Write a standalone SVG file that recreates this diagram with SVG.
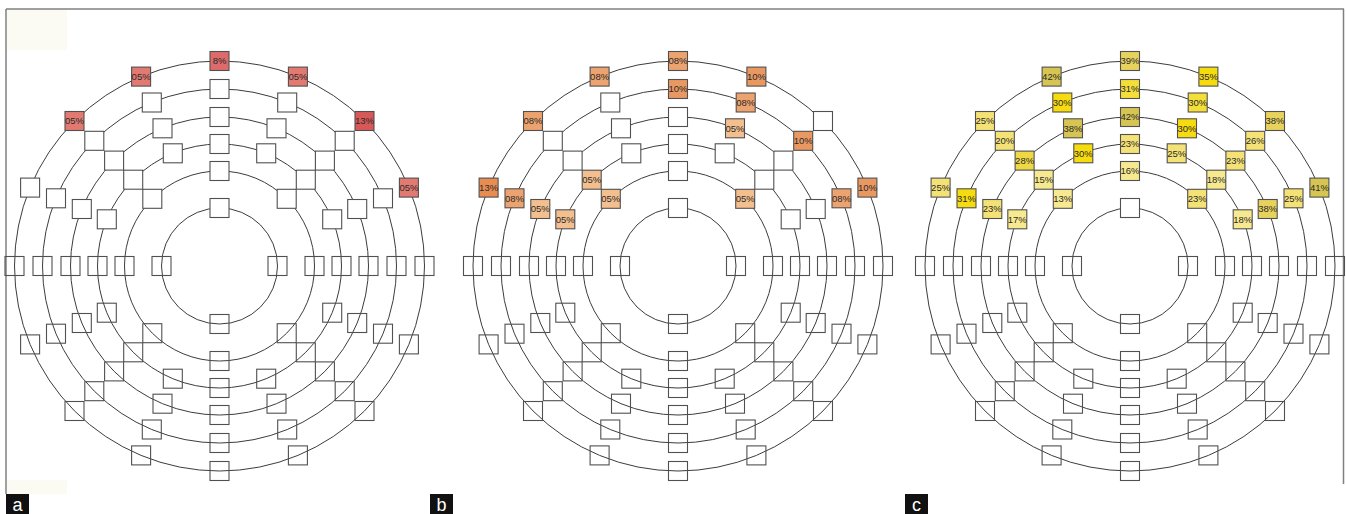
<svg xmlns="http://www.w3.org/2000/svg" xmlns:xlink="http://www.w3.org/1999/xlink" width="1346" height="514" viewBox="0 0 1346 514">
<style>
.ring{fill:none;stroke:#3c3c3c;stroke-width:1}
.u{fill:#fff;stroke:#505050;stroke-width:1.1}
.l{fill:none;stroke:#505050;stroke-width:1.1}
.c{stroke:#505050;stroke-width:1.1}
.t{font-family:"Liberation Sans",Arial,sans-serif;font-size:9.5px;fill:#2a2a2a;text-anchor:middle}
.ra5{fill:#e37a72}.ra8{fill:#dd6b6b}.ra13{fill:#d85858}
.ob13{fill:#e88c52}.ob10{fill:#e99862}.ob08{fill:#eda36f}.ob05{fill:#f4bf8e}
.y1{fill:#f6db0e}.y2{fill:#f4df3a}.y3{fill:#d7c553}.y4{fill:#e6d25c}.y5{fill:#f4e277}.y6{fill:#f7e98f}.y7{fill:#efd846}
.frame{stroke:#808080;stroke-width:1.5;fill:none}
.lab{fill:#111}
.labt{font-family:"Liberation Sans",Arial,sans-serif;font-size:18px;fill:#fff;text-anchor:middle}
</style>
<defs>
<rect id="s" x="-9.5" y="-9.5" width="19" height="19"/>
</defs>
<rect x="0" y="0" width="1346" height="514" fill="#fff"/>
<rect x="7" y="10" width="60" height="40" fill="#fbfbf3"/>
<rect x="7" y="480" width="60" height="14" fill="#fbfbf3"/>
<g id="frame">
<line class="frame" x1="6" y1="9" x2="1344" y2="9"/>
<line class="frame" x1="6" y1="9" x2="6" y2="494"/>
<line class="frame" x1="1343.5" y1="9" x2="1343.5" y2="484"/>
</g>

<g id="panel-a" transform="translate(219.5,266)">
<g id="a-rings"><circle class="ring" r="58"/><circle class="ring" r="95"/><circle class="ring" r="122"/><circle class="ring" r="149"/><circle class="ring" r="177"/><circle class="ring" r="205"/></g>
<g id="a-N1" transform="translate(0,-58)"><use href="#s" class="u"/></g>
<g id="a-N2" transform="translate(0,-95)"><use href="#s" class="u"/></g>
<g id="a-N3" transform="translate(0,-122)"><use href="#s" class="u"/></g>
<g id="a-N4" transform="translate(0,-149)"><use href="#s" class="u"/></g>
<g id="a-N5" transform="translate(0,-177)"><use href="#s" class="u"/></g>
<g id="a-N6" transform="translate(0,-205)"><use href="#s" class="c ra8"/><text class="t" y="3.4">8%</text></g>
<g id="a-S1" transform="translate(0,58)"><use href="#s" class="l"/></g>
<g id="a-S2" transform="translate(0,95)"><use href="#s" class="l"/></g>
<g id="a-S3" transform="translate(0,122)"><use href="#s" class="l"/></g>
<g id="a-S4" transform="translate(0,149)"><use href="#s" class="l"/></g>
<g id="a-S5" transform="translate(0,177)"><use href="#s" class="l"/></g>
<g id="a-S6" transform="translate(0,205)"><use href="#s" class="l"/></g>
<g id="a-E1" transform="translate(58,0)"><use href="#s" class="l"/></g>
<g id="a-E2" transform="translate(95,0)"><use href="#s" class="l"/></g>
<g id="a-E3" transform="translate(122,0)"><use href="#s" class="l"/></g>
<g id="a-E4" transform="translate(149,0)"><use href="#s" class="l"/></g>
<g id="a-E5" transform="translate(177,0)"><use href="#s" class="l"/></g>
<g id="a-E6" transform="translate(205,0)"><use href="#s" class="l"/></g>
<g id="a-W1" transform="translate(-58,0)"><use href="#s" class="l"/></g>
<g id="a-W2" transform="translate(-95,0)"><use href="#s" class="l"/></g>
<g id="a-W3" transform="translate(-122,0)"><use href="#s" class="l"/></g>
<g id="a-W4" transform="translate(-149,0)"><use href="#s" class="l"/></g>
<g id="a-W5" transform="translate(-177,0)"><use href="#s" class="l"/></g>
<g id="a-W6" transform="translate(-205,0)"><use href="#s" class="l"/></g>
<g id="a-NE2" transform="translate(67.2,-67.2)"><use href="#s" class="u"/></g>
<g id="a-NE3" transform="translate(86.3,-86.3)"><use href="#s" class="u"/></g>
<g id="a-NE4" transform="translate(105.4,-105.4)"><use href="#s" class="u"/></g>
<g id="a-NE5" transform="translate(125.2,-125.2)"><use href="#s" class="u"/></g>
<g id="a-NE6" transform="translate(145,-145)"><use href="#s" class="c ra13"/><text class="t" y="3.4">13%</text></g>
<g id="a-NW2" transform="translate(-67.2,-67.2)"><use href="#s" class="u"/></g>
<g id="a-NW3" transform="translate(-86.3,-86.3)"><use href="#s" class="u"/></g>
<g id="a-NW4" transform="translate(-105.4,-105.4)"><use href="#s" class="u"/></g>
<g id="a-NW5" transform="translate(-125.2,-125.2)"><use href="#s" class="u"/></g>
<g id="a-NW6" transform="translate(-145,-145)"><use href="#s" class="c ra5"/><text class="t" y="3.4">05%</text></g>
<g id="a-SE2" transform="translate(67.2,67.2)"><use href="#s" class="l"/></g>
<g id="a-SE3" transform="translate(86.3,86.3)"><use href="#s" class="l"/></g>
<g id="a-SE4" transform="translate(105.4,105.4)"><use href="#s" class="l"/></g>
<g id="a-SE5" transform="translate(125.2,125.2)"><use href="#s" class="l"/></g>
<g id="a-SE6" transform="translate(145,145)"><use href="#s" class="l"/></g>
<g id="a-SW2" transform="translate(-67.2,67.2)"><use href="#s" class="l"/></g>
<g id="a-SW3" transform="translate(-86.3,86.3)"><use href="#s" class="l"/></g>
<g id="a-SW4" transform="translate(-105.4,105.4)"><use href="#s" class="l"/></g>
<g id="a-SW5" transform="translate(-125.2,125.2)"><use href="#s" class="l"/></g>
<g id="a-SW6" transform="translate(-145,145)"><use href="#s" class="l"/></g>
<g id="a-NNE3" transform="translate(46.7,-112.7)"><use href="#s" class="u"/></g>
<g id="a-NNE4" transform="translate(57,-137.7)"><use href="#s" class="u"/></g>
<g id="a-NNE5" transform="translate(67.7,-163.5)"><use href="#s" class="u"/></g>
<g id="a-NNE6" transform="translate(78.4,-189.4)"><use href="#s" class="c ra5"/><text class="t" y="3.4">05%</text></g>
<g id="a-NNW3" transform="translate(-46.7,-112.7)"><use href="#s" class="u"/></g>
<g id="a-NNW4" transform="translate(-57,-137.7)"><use href="#s" class="u"/></g>
<g id="a-NNW5" transform="translate(-67.7,-163.5)"><use href="#s" class="u"/></g>
<g id="a-NNW6" transform="translate(-78.4,-189.4)"><use href="#s" class="c ra5"/><text class="t" y="3.4">05%</text></g>
<g id="a-SSE3" transform="translate(46.7,112.7)"><use href="#s" class="l"/></g>
<g id="a-SSE4" transform="translate(57,137.7)"><use href="#s" class="l"/></g>
<g id="a-SSE5" transform="translate(67.7,163.5)"><use href="#s" class="l"/></g>
<g id="a-SSE6" transform="translate(78.4,189.4)"><use href="#s" class="l"/></g>
<g id="a-SSW3" transform="translate(-46.7,112.7)"><use href="#s" class="l"/></g>
<g id="a-SSW4" transform="translate(-57,137.7)"><use href="#s" class="l"/></g>
<g id="a-SSW5" transform="translate(-67.7,163.5)"><use href="#s" class="l"/></g>
<g id="a-SSW6" transform="translate(-78.4,189.4)"><use href="#s" class="l"/></g>
<g id="a-ENE3" transform="translate(112.7,-46.7)"><use href="#s" class="u"/></g>
<g id="a-ENE4" transform="translate(137.7,-57)"><use href="#s" class="u"/></g>
<g id="a-ENE5" transform="translate(163.5,-67.7)"><use href="#s" class="u"/></g>
<g id="a-ENE6" transform="translate(189.4,-78.4)"><use href="#s" class="c ra5"/><text class="t" y="3.4">05%</text></g>
<g id="a-WNW3" transform="translate(-112.7,-46.7)"><use href="#s" class="u"/></g>
<g id="a-WNW4" transform="translate(-137.7,-57)"><use href="#s" class="u"/></g>
<g id="a-WNW5" transform="translate(-163.5,-67.7)"><use href="#s" class="u"/></g>
<g id="a-WNW6" transform="translate(-189.4,-78.4)"><use href="#s" class="u"/></g>
<g id="a-ESE3" transform="translate(112.7,46.7)"><use href="#s" class="l"/></g>
<g id="a-ESE4" transform="translate(137.7,57)"><use href="#s" class="l"/></g>
<g id="a-ESE5" transform="translate(163.5,67.7)"><use href="#s" class="l"/></g>
<g id="a-ESE6" transform="translate(189.4,78.4)"><use href="#s" class="l"/></g>
<g id="a-WSW3" transform="translate(-112.7,46.7)"><use href="#s" class="l"/></g>
<g id="a-WSW4" transform="translate(-137.7,57)"><use href="#s" class="l"/></g>
<g id="a-WSW5" transform="translate(-163.5,67.7)"><use href="#s" class="l"/></g>
<g id="a-WSW6" transform="translate(-189.4,78.4)"><use href="#s" class="l"/></g>
</g>

<g id="panel-b" transform="translate(678,266)">
<g id="b-rings"><circle class="ring" r="58"/><circle class="ring" r="95"/><circle class="ring" r="122"/><circle class="ring" r="149"/><circle class="ring" r="177"/><circle class="ring" r="205"/></g>
<g id="b-N1" transform="translate(0,-58)"><use href="#s" class="u"/></g>
<g id="b-N2" transform="translate(0,-95)"><use href="#s" class="u"/></g>
<g id="b-N3" transform="translate(0,-122)"><use href="#s" class="u"/></g>
<g id="b-N4" transform="translate(0,-149)"><use href="#s" class="u"/></g>
<g id="b-N5" transform="translate(0,-177)"><use href="#s" class="c ob10"/><text class="t" y="3.4">10%</text></g>
<g id="b-N6" transform="translate(0,-205)"><use href="#s" class="c ob08"/><text class="t" y="3.4">08%</text></g>
<g id="b-S1" transform="translate(0,58)"><use href="#s" class="l"/></g>
<g id="b-S2" transform="translate(0,95)"><use href="#s" class="l"/></g>
<g id="b-S3" transform="translate(0,122)"><use href="#s" class="l"/></g>
<g id="b-S4" transform="translate(0,149)"><use href="#s" class="l"/></g>
<g id="b-S5" transform="translate(0,177)"><use href="#s" class="l"/></g>
<g id="b-S6" transform="translate(0,205)"><use href="#s" class="l"/></g>
<g id="b-E1" transform="translate(58,0)"><use href="#s" class="l"/></g>
<g id="b-E2" transform="translate(95,0)"><use href="#s" class="l"/></g>
<g id="b-E3" transform="translate(122,0)"><use href="#s" class="l"/></g>
<g id="b-E4" transform="translate(149,0)"><use href="#s" class="l"/></g>
<g id="b-E5" transform="translate(177,0)"><use href="#s" class="l"/></g>
<g id="b-E6" transform="translate(205,0)"><use href="#s" class="l"/></g>
<g id="b-W1" transform="translate(-58,0)"><use href="#s" class="l"/></g>
<g id="b-W2" transform="translate(-95,0)"><use href="#s" class="l"/></g>
<g id="b-W3" transform="translate(-122,0)"><use href="#s" class="l"/></g>
<g id="b-W4" transform="translate(-149,0)"><use href="#s" class="l"/></g>
<g id="b-W5" transform="translate(-177,0)"><use href="#s" class="l"/></g>
<g id="b-W6" transform="translate(-205,0)"><use href="#s" class="l"/></g>
<g id="b-NE2" transform="translate(67.2,-67.2)"><use href="#s" class="c ob05"/><text class="t" y="3.4">05%</text></g>
<g id="b-NE3" transform="translate(86.3,-86.3)"><use href="#s" class="u"/></g>
<g id="b-NE4" transform="translate(105.4,-105.4)"><use href="#s" class="u"/></g>
<g id="b-NE5" transform="translate(125.2,-125.2)"><use href="#s" class="c ob10"/><text class="t" y="3.4">10%</text></g>
<g id="b-NE6" transform="translate(145,-145)"><use href="#s" class="u"/></g>
<g id="b-NW2" transform="translate(-67.2,-67.2)"><use href="#s" class="c ob05"/><text class="t" y="3.4">05%</text></g>
<g id="b-NW3" transform="translate(-86.3,-86.3)"><use href="#s" class="c ob05"/><text class="t" y="3.4">05%</text></g>
<g id="b-NW4" transform="translate(-105.4,-105.4)"><use href="#s" class="u"/></g>
<g id="b-NW5" transform="translate(-125.2,-125.2)"><use href="#s" class="u"/></g>
<g id="b-NW6" transform="translate(-145,-145)"><use href="#s" class="c ob08"/><text class="t" y="3.4">08%</text></g>
<g id="b-SE2" transform="translate(67.2,67.2)"><use href="#s" class="l"/></g>
<g id="b-SE3" transform="translate(86.3,86.3)"><use href="#s" class="l"/></g>
<g id="b-SE4" transform="translate(105.4,105.4)"><use href="#s" class="l"/></g>
<g id="b-SE5" transform="translate(125.2,125.2)"><use href="#s" class="l"/></g>
<g id="b-SE6" transform="translate(145,145)"><use href="#s" class="l"/></g>
<g id="b-SW2" transform="translate(-67.2,67.2)"><use href="#s" class="l"/></g>
<g id="b-SW3" transform="translate(-86.3,86.3)"><use href="#s" class="l"/></g>
<g id="b-SW4" transform="translate(-105.4,105.4)"><use href="#s" class="l"/></g>
<g id="b-SW5" transform="translate(-125.2,125.2)"><use href="#s" class="l"/></g>
<g id="b-SW6" transform="translate(-145,145)"><use href="#s" class="l"/></g>
<g id="b-NNE3" transform="translate(46.7,-112.7)"><use href="#s" class="u"/></g>
<g id="b-NNE4" transform="translate(57,-137.7)"><use href="#s" class="c ob05"/><text class="t" y="3.4">05%</text></g>
<g id="b-NNE5" transform="translate(67.7,-163.5)"><use href="#s" class="c ob08"/><text class="t" y="3.4">08%</text></g>
<g id="b-NNE6" transform="translate(78.4,-189.4)"><use href="#s" class="c ob10"/><text class="t" y="3.4">10%</text></g>
<g id="b-NNW3" transform="translate(-46.7,-112.7)"><use href="#s" class="u"/></g>
<g id="b-NNW4" transform="translate(-57,-137.7)"><use href="#s" class="u"/></g>
<g id="b-NNW5" transform="translate(-67.7,-163.5)"><use href="#s" class="u"/></g>
<g id="b-NNW6" transform="translate(-78.4,-189.4)"><use href="#s" class="c ob08"/><text class="t" y="3.4">08%</text></g>
<g id="b-SSE3" transform="translate(46.7,112.7)"><use href="#s" class="l"/></g>
<g id="b-SSE4" transform="translate(57,137.7)"><use href="#s" class="l"/></g>
<g id="b-SSE5" transform="translate(67.7,163.5)"><use href="#s" class="l"/></g>
<g id="b-SSE6" transform="translate(78.4,189.4)"><use href="#s" class="l"/></g>
<g id="b-SSW3" transform="translate(-46.7,112.7)"><use href="#s" class="l"/></g>
<g id="b-SSW4" transform="translate(-57,137.7)"><use href="#s" class="l"/></g>
<g id="b-SSW5" transform="translate(-67.7,163.5)"><use href="#s" class="l"/></g>
<g id="b-SSW6" transform="translate(-78.4,189.4)"><use href="#s" class="l"/></g>
<g id="b-ENE3" transform="translate(112.7,-46.7)"><use href="#s" class="u"/></g>
<g id="b-ENE4" transform="translate(137.7,-57)"><use href="#s" class="u"/></g>
<g id="b-ENE5" transform="translate(163.5,-67.7)"><use href="#s" class="c ob08"/><text class="t" y="3.4">08%</text></g>
<g id="b-ENE6" transform="translate(189.4,-78.4)"><use href="#s" class="c ob10"/><text class="t" y="3.4">10%</text></g>
<g id="b-WNW3" transform="translate(-112.7,-46.7)"><use href="#s" class="c ob05"/><text class="t" y="3.4">05%</text></g>
<g id="b-WNW4" transform="translate(-137.7,-57)"><use href="#s" class="c ob05"/><text class="t" y="3.4">05%</text></g>
<g id="b-WNW5" transform="translate(-163.5,-67.7)"><use href="#s" class="c ob08"/><text class="t" y="3.4">08%</text></g>
<g id="b-WNW6" transform="translate(-189.4,-78.4)"><use href="#s" class="c ob13"/><text class="t" y="3.4">13%</text></g>
<g id="b-ESE3" transform="translate(112.7,46.7)"><use href="#s" class="l"/></g>
<g id="b-ESE4" transform="translate(137.7,57)"><use href="#s" class="l"/></g>
<g id="b-ESE5" transform="translate(163.5,67.7)"><use href="#s" class="l"/></g>
<g id="b-ESE6" transform="translate(189.4,78.4)"><use href="#s" class="l"/></g>
<g id="b-WSW3" transform="translate(-112.7,46.7)"><use href="#s" class="l"/></g>
<g id="b-WSW4" transform="translate(-137.7,57)"><use href="#s" class="l"/></g>
<g id="b-WSW5" transform="translate(-163.5,67.7)"><use href="#s" class="l"/></g>
<g id="b-WSW6" transform="translate(-189.4,78.4)"><use href="#s" class="l"/></g>
</g>

<g id="panel-c" transform="translate(1130,266)">
<g id="c-rings"><circle class="ring" r="58"/><circle class="ring" r="95"/><circle class="ring" r="122"/><circle class="ring" r="149"/><circle class="ring" r="177"/><circle class="ring" r="205"/></g>
<g id="c-N1" transform="translate(0,-58)"><use href="#s" class="u"/></g>
<g id="c-N2" transform="translate(0,-95)"><use href="#s" class="c y6"/><text class="t" y="3.4">16%</text></g>
<g id="c-N3" transform="translate(0,-122)"><use href="#s" class="c y5"/><text class="t" y="3.4">23%</text></g>
<g id="c-N4" transform="translate(0,-149)"><use href="#s" class="c y3"/><text class="t" y="3.4">42%</text></g>
<g id="c-N5" transform="translate(0,-177)"><use href="#s" class="c y2"/><text class="t" y="3.4">31%</text></g>
<g id="c-N6" transform="translate(0,-205)"><use href="#s" class="c y4"/><text class="t" y="3.4">39%</text></g>
<g id="c-S1" transform="translate(0,58)"><use href="#s" class="l"/></g>
<g id="c-S2" transform="translate(0,95)"><use href="#s" class="l"/></g>
<g id="c-S3" transform="translate(0,122)"><use href="#s" class="l"/></g>
<g id="c-S4" transform="translate(0,149)"><use href="#s" class="l"/></g>
<g id="c-S5" transform="translate(0,177)"><use href="#s" class="l"/></g>
<g id="c-S6" transform="translate(0,205)"><use href="#s" class="l"/></g>
<g id="c-E1" transform="translate(58,0)"><use href="#s" class="l"/></g>
<g id="c-E2" transform="translate(95,0)"><use href="#s" class="l"/></g>
<g id="c-E3" transform="translate(122,0)"><use href="#s" class="l"/></g>
<g id="c-E4" transform="translate(149,0)"><use href="#s" class="l"/></g>
<g id="c-E5" transform="translate(177,0)"><use href="#s" class="l"/></g>
<g id="c-E6" transform="translate(205,0)"><use href="#s" class="l"/></g>
<g id="c-W1" transform="translate(-58,0)"><use href="#s" class="l"/></g>
<g id="c-W2" transform="translate(-95,0)"><use href="#s" class="l"/></g>
<g id="c-W3" transform="translate(-122,0)"><use href="#s" class="l"/></g>
<g id="c-W4" transform="translate(-149,0)"><use href="#s" class="l"/></g>
<g id="c-W5" transform="translate(-177,0)"><use href="#s" class="l"/></g>
<g id="c-W6" transform="translate(-205,0)"><use href="#s" class="l"/></g>
<g id="c-NE2" transform="translate(67.2,-67.2)"><use href="#s" class="c y5"/><text class="t" y="3.4">23%</text></g>
<g id="c-NE3" transform="translate(86.3,-86.3)"><use href="#s" class="c y6"/><text class="t" y="3.4">18%</text></g>
<g id="c-NE4" transform="translate(105.4,-105.4)"><use href="#s" class="c y5"/><text class="t" y="3.4">23%</text></g>
<g id="c-NE5" transform="translate(125.2,-125.2)"><use href="#s" class="c y5"/><text class="t" y="3.4">26%</text></g>
<g id="c-NE6" transform="translate(145,-145)"><use href="#s" class="c y4"/><text class="t" y="3.4">38%</text></g>
<g id="c-NW2" transform="translate(-67.2,-67.2)"><use href="#s" class="c y6"/><text class="t" y="3.4">13%</text></g>
<g id="c-NW3" transform="translate(-86.3,-86.3)"><use href="#s" class="c y6"/><text class="t" y="3.4">15%</text></g>
<g id="c-NW4" transform="translate(-105.4,-105.4)"><use href="#s" class="c y7"/><text class="t" y="3.4">28%</text></g>
<g id="c-NW5" transform="translate(-125.2,-125.2)"><use href="#s" class="c y5"/><text class="t" y="3.4">20%</text></g>
<g id="c-NW6" transform="translate(-145,-145)"><use href="#s" class="c y5"/><text class="t" y="3.4">25%</text></g>
<g id="c-SE2" transform="translate(67.2,67.2)"><use href="#s" class="l"/></g>
<g id="c-SE3" transform="translate(86.3,86.3)"><use href="#s" class="l"/></g>
<g id="c-SE4" transform="translate(105.4,105.4)"><use href="#s" class="l"/></g>
<g id="c-SE5" transform="translate(125.2,125.2)"><use href="#s" class="l"/></g>
<g id="c-SE6" transform="translate(145,145)"><use href="#s" class="l"/></g>
<g id="c-SW2" transform="translate(-67.2,67.2)"><use href="#s" class="l"/></g>
<g id="c-SW3" transform="translate(-86.3,86.3)"><use href="#s" class="l"/></g>
<g id="c-SW4" transform="translate(-105.4,105.4)"><use href="#s" class="l"/></g>
<g id="c-SW5" transform="translate(-125.2,125.2)"><use href="#s" class="l"/></g>
<g id="c-SW6" transform="translate(-145,145)"><use href="#s" class="l"/></g>
<g id="c-NNE3" transform="translate(46.7,-112.7)"><use href="#s" class="c y5"/><text class="t" y="3.4">25%</text></g>
<g id="c-NNE4" transform="translate(57,-137.7)"><use href="#s" class="c y1"/><text class="t" y="3.4">30%</text></g>
<g id="c-NNE5" transform="translate(67.7,-163.5)"><use href="#s" class="c y2"/><text class="t" y="3.4">30%</text></g>
<g id="c-NNE6" transform="translate(78.4,-189.4)"><use href="#s" class="c y1"/><text class="t" y="3.4">35%</text></g>
<g id="c-NNW3" transform="translate(-46.7,-112.7)"><use href="#s" class="c y1"/><text class="t" y="3.4">30%</text></g>
<g id="c-NNW4" transform="translate(-57,-137.7)"><use href="#s" class="c y3"/><text class="t" y="3.4">38%</text></g>
<g id="c-NNW5" transform="translate(-67.7,-163.5)"><use href="#s" class="c y1"/><text class="t" y="3.4">30%</text></g>
<g id="c-NNW6" transform="translate(-78.4,-189.4)"><use href="#s" class="c y3"/><text class="t" y="3.4">42%</text></g>
<g id="c-SSE3" transform="translate(46.7,112.7)"><use href="#s" class="l"/></g>
<g id="c-SSE4" transform="translate(57,137.7)"><use href="#s" class="l"/></g>
<g id="c-SSE5" transform="translate(67.7,163.5)"><use href="#s" class="l"/></g>
<g id="c-SSE6" transform="translate(78.4,189.4)"><use href="#s" class="l"/></g>
<g id="c-SSW3" transform="translate(-46.7,112.7)"><use href="#s" class="l"/></g>
<g id="c-SSW4" transform="translate(-57,137.7)"><use href="#s" class="l"/></g>
<g id="c-SSW5" transform="translate(-67.7,163.5)"><use href="#s" class="l"/></g>
<g id="c-SSW6" transform="translate(-78.4,189.4)"><use href="#s" class="l"/></g>
<g id="c-ENE3" transform="translate(112.7,-46.7)"><use href="#s" class="c y6"/><text class="t" y="3.4">18%</text></g>
<g id="c-ENE4" transform="translate(137.7,-57)"><use href="#s" class="c y4"/><text class="t" y="3.4">38%</text></g>
<g id="c-ENE5" transform="translate(163.5,-67.7)"><use href="#s" class="c y5"/><text class="t" y="3.4">25%</text></g>
<g id="c-ENE6" transform="translate(189.4,-78.4)"><use href="#s" class="c y3"/><text class="t" y="3.4">41%</text></g>
<g id="c-WNW3" transform="translate(-112.7,-46.7)"><use href="#s" class="c y6"/><text class="t" y="3.4">17%</text></g>
<g id="c-WNW4" transform="translate(-137.7,-57)"><use href="#s" class="c y5"/><text class="t" y="3.4">23%</text></g>
<g id="c-WNW5" transform="translate(-163.5,-67.7)"><use href="#s" class="c y1"/><text class="t" y="3.4">31%</text></g>
<g id="c-WNW6" transform="translate(-189.4,-78.4)"><use href="#s" class="c y5"/><text class="t" y="3.4">25%</text></g>
<g id="c-ESE3" transform="translate(112.7,46.7)"><use href="#s" class="l"/></g>
<g id="c-ESE4" transform="translate(137.7,57)"><use href="#s" class="l"/></g>
<g id="c-ESE5" transform="translate(163.5,67.7)"><use href="#s" class="l"/></g>
<g id="c-ESE6" transform="translate(189.4,78.4)"><use href="#s" class="l"/></g>
<g id="c-WSW3" transform="translate(-112.7,46.7)"><use href="#s" class="l"/></g>
<g id="c-WSW4" transform="translate(-137.7,57)"><use href="#s" class="l"/></g>
<g id="c-WSW5" transform="translate(-163.5,67.7)"><use href="#s" class="l"/></g>
<g id="c-WSW6" transform="translate(-189.4,78.4)"><use href="#s" class="l"/></g>
</g>

<g id="label-a"><rect class="lab" x="6" y="494" width="23" height="20"/><text class="labt" x="17.5" y="511">a</text></g>
<g id="label-b"><rect class="lab" x="430" y="494" width="23" height="20"/><text class="labt" x="441.5" y="511">b</text></g>
<g id="label-c"><rect class="lab" x="905" y="494" width="23" height="20"/><text class="labt" x="916.5" y="511">c</text></g>
</svg>
